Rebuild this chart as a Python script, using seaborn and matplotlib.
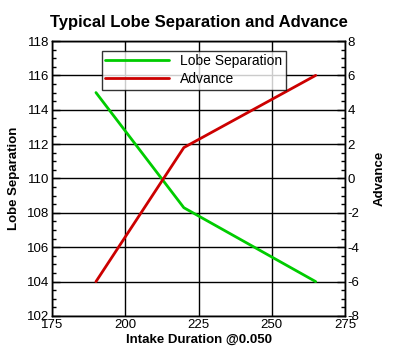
import matplotlib
matplotlib.use("Agg")
import matplotlib.pyplot as plt
import seaborn as sns
import pandas as pd
from matplotlib.ticker import MultipleLocator

# data
duration = [190, 220, 265]
lobe_sep = [115.0, 108.3, 104.0]
advance = [-6.0, 1.8, 6.0]

sns.set_style("white")
plt.rcParams['font.family'] = ['Liberation Sans', 'DejaVu Sans']
plt.rcParams['xtick.direction'] = 'in'
plt.rcParams['ytick.direction'] = 'in'
plt.rcParams['axes.unicode_minus'] = False
plt.rcParams['text.color'] = 'black'
plt.rcParams['axes.labelcolor'] = 'black'

df = pd.DataFrame({'duration': duration, 'lobe': lobe_sep, 'advance': advance})

fig = plt.figure(figsize=(4, 3.56), dpi=100)
ax = fig.add_axes([0.13, 0.1124, 0.7325, 0.7724])
ax2 = ax.twinx()

sns.lineplot(data=df, x='duration', y='lobe', ax=ax, color='#00cc00', lw=2, label='Lobe Separation', legend=False)
sns.lineplot(data=df, x='duration', y='advance', ax=ax2, color='#cc0000', lw=2, label='Advance', legend=False)

ax.set_xlim(175, 275)
ax.set_ylim(102, 118)
ax2.set_ylim(-8, 8)
ax.xaxis.set_major_locator(MultipleLocator(25))
ax.xaxis.set_minor_locator(MultipleLocator(5))
ax.yaxis.set_major_locator(MultipleLocator(2))
ax.yaxis.set_minor_locator(MultipleLocator(0.5))
ax2.yaxis.set_major_locator(MultipleLocator(2))
ax2.yaxis.set_minor_locator(MultipleLocator(0.5))

ax.grid(True, which='major', color='black', lw=1)
for a in (ax, ax2):
    for s in a.spines.values():
        s.set_color('black')
        s.set_linewidth(1)
    a.tick_params(which='major', length=6, width=1, colors='black', labelsize=9.5, pad=2)
    a.tick_params(which='minor', length=3, width=1, colors='black')
ax.tick_params(axis='x', pad=2)

ax.set_xlabel('Intake Duration @0.050', fontsize=9.5, fontweight='bold', labelpad=2)
ax.set_ylabel('Lobe Separation', fontsize=9.5, fontweight='bold', labelpad=5)
ax2.set_ylabel('Advance', fontsize=9.5, fontweight='bold', labelpad=10)
ax.set_title('Typical Lobe Separation and Advance', fontsize=12, fontweight='bold', pad=10)

h1, l1 = ax.get_legend_handles_labels()
h2, l2 = ax2.get_legend_handles_labels()
leg = ax2.legend(h1 + h2, l1 + l2, loc='upper left', bbox_to_anchor=(0.17, 0.965),
                 fontsize=10, frameon=True, fancybox=False, edgecolor='black',
                 borderpad=0.25, labelspacing=0.3, handlelength=4.6, handletextpad=0.8,
                 borderaxespad=0)
leg.get_frame().set_linewidth(1)

fig.savefig('out.png', dpi=100)
